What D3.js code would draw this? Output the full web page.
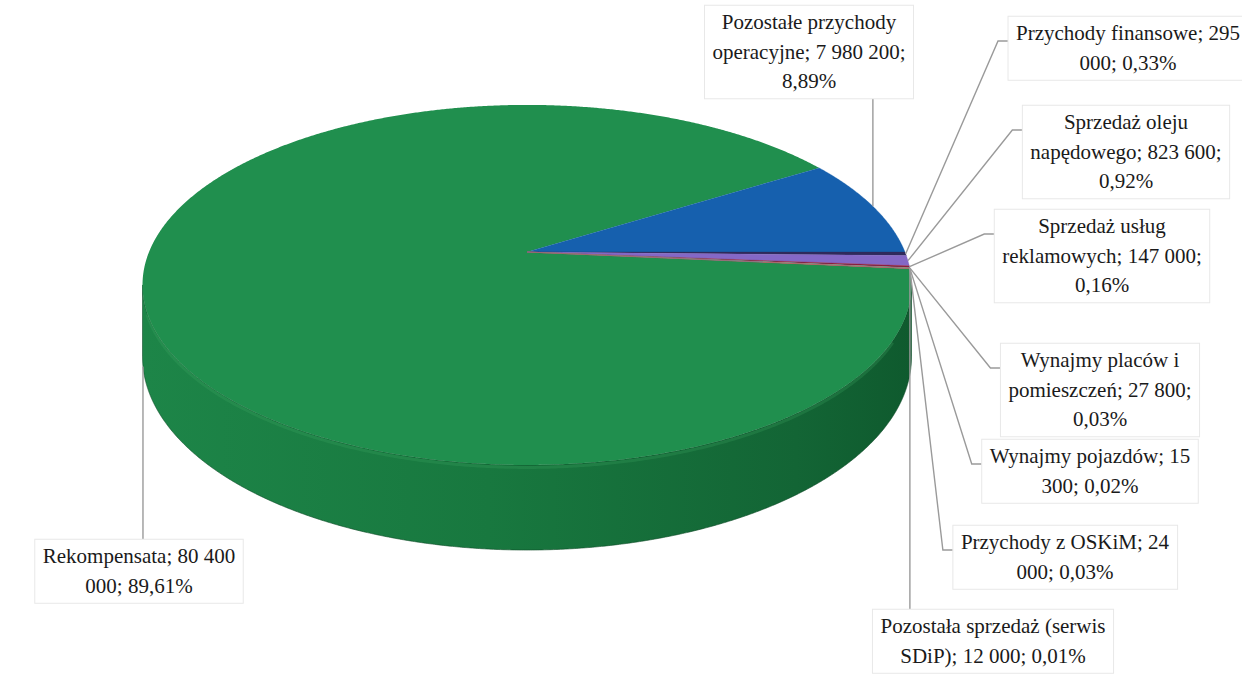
<!DOCTYPE html>
<html>
<head>
<meta charset="utf-8">
<script src="https://cdn.jsdelivr.net/npm/d3@7/dist/d3.min.js"></script>
<style>
  body { margin: 0; background: #fff; }
  svg { display: block; }
</style>
</head>
<body>
<script>
// Data
const categories = [
  "Rekompensata",
  "Pozostałe przychody operacyjne",
  "Przychody finansowe",
  "Sprzedaż oleju napędowego",
  "Sprzedaż usług reklamowych",
  "Wynajmy placów i pomieszczeń",
  "Wynajmy pojazdów",
  "Przychody z OSKiM",
  "Pozostała sprzedaż (serwis SDiP)"
];
const values = [80400000, 7980200, 295000, 823600, 147000, 27800, 15300, 24000, 12000];
const colors = ["#208f4e", "#1660ae", "#2f2a5c", "#8468c6", "#8c1f3e", "#3aa6c0", "#f39a3c", "#4f81bd", "#c0504d"];

// Label layout: text centre x, first line centre y, wrap width, leader type
const labelLayout = [
  { x: 139,  y: 556, wrap: 220, leader: "down" },
  { x: 809,  y: 22,  wrap: 220, leader: "up" },
  { x: 1128, y: 33,  wrap: 235, leader: "right" },
  { x: 1126, y: 122, wrap: 220, leader: "right" },
  { x: 1102, y: 226, wrap: 220, leader: "right" },
  { x: 1100, y: 360, wrap: 220, leader: "right" },
  { x: 1090, y: 456, wrap: 220, leader: "right" },
  { x: 1065, y: 542, wrap: 220, leader: "right" },
  { x: 993,  y: 626, wrap: 250, leader: "down" }
];

const WIDTH = 1242, HEIGHT = 682;
const LINE_H = 29.5;
const FONT = "21px 'Liberation Serif', 'Times New Roman', serif";

// 3D pie geometry (perspective view of a flat cylinder)
const PIE = { cx: 527, cy: 252, rx: 378, ry: 174, persp: -0.183, depth: 69.5 };
function proj(t, h) {
  const s = Math.sin(t), k = 1 + PIE.persp * s;
  return [PIE.cx + PIE.rx * Math.cos(t) / k, PIE.cy + (PIE.ry * s + h) / k];
}

const pl = d3.formatLocale({ decimal: ",", thousands: " ", grouping: [3], currency: ["", " zł"] });
const fmtNum = pl.format(",d");
const fmtPct = pl.format(".2%");
const total = d3.sum(values);

const svg = d3.select("body").append("svg")
  .attr("width", WIDTH)
  .attr("height", HEIGHT);

const defs = svg.append("defs");
const sideGrad = defs.append("linearGradient").attr("id", "sideGrad")
  .attr("x1", 0).attr("x2", 1).attr("y1", 0).attr("y2", 0);
sideGrad.append("stop").attr("offset", "0%").attr("stop-color", "#1d8548");
sideGrad.append("stop").attr("offset", "45%").attr("stop-color", "#18783f");
sideGrad.append("stop").attr("offset", "85%").attr("stop-color", "#136535");
sideGrad.append("stop").attr("offset", "100%").attr("stop-color", "#0f5a2e");

// Pie angles: d3.pie keeps data order clockwise; rotate so the
// second slice ends at the right-hand side of the disc
const arcs = d3.pie().sort(null).value(d => d)(values);
const offset = -arcs[1].endAngle;
const TAU = Math.PI * 2;
arcs.forEach(a => {
  let t0 = a.startAngle + offset;
  while (t0 < 0) t0 += TAU;
  a.t0 = t0;
  a.t1 = t0 + (a.endAngle - a.startAngle);
});

function arcPoints(t0, t1, h) {
  const n = Math.max(2, Math.ceil((t1 - t0) / 0.005));
  return d3.range(n + 1).map(i => proj(t0 + (t1 - t0) * i / n, h));
}
const line = d3.line();

// Visible part of the side wall lies between the two silhouette angles
const tVis0 = Math.asin(-PIE.persp), tVis1 = Math.PI - tVis0;
const G = svg.append("g");
arcs.forEach((a, i) => {
  [0, TAU].forEach(shift => {
    const s0 = Math.max(a.t0 - shift, tVis0), s1 = Math.min(a.t1 - shift, tVis1);
    if (s1 <= s0) return;
    const pts = arcPoints(s0, s1, 0).concat(arcPoints(s0, s1, PIE.depth).reverse());
    G.append("path")
      .attr("d", line(pts) + "Z")
      .attr("fill", i === 0 ? "url(#sideGrad)" : d3.color(colors[i]).darker(0.6))
      .attr("stroke", "#0d4a26")
      .attr("stroke-width", 0.6);
  });
});

// Top faces
arcs.forEach((a, i) => {
  const pts = [[PIE.cx, PIE.cy]].concat(arcPoints(a.t0, a.t1, 0));
  G.append("path")
    .attr("d", line(pts) + "Z")
    .attr("fill", colors[i])
    .attr("stroke", i === 0 ? "none" : colors[i])
    .attr("stroke-width", 0.3);
});

// Soft highlight along the front rim of the top face
G.append("path")
  .attr("d", line(arcPoints(tVis0 + 0.3, tVis1 - 0.15, 2)))
  .attr("fill", "none")
  .attr("stroke", "#3fa865")
  .attr("stroke-opacity", 0.25)
  .attr("stroke-width", 3);

// Leader lines sit under the label boxes
const leaders = svg.append("g");
const labels = svg.append("g").style("font", FONT).attr("fill", "#1a1a1a");

function wrapText(str, width) {
  const tmp = labels.append("text").style("visibility", "hidden");
  const words = str.split(" ");
  const out = [];
  let cur = words[0];
  for (let k = 1; k < words.length; k++) {
    tmp.text(cur + " " + words[k]);
    if (tmp.node().getComputedTextLength() > width) { out.push(cur); cur = words[k]; }
    else cur = cur + " " + words[k];
  }
  out.push(cur);
  tmp.remove();
  return out;
}

arcs.forEach((a, i) => {
  const L = labelLayout[i];
  const txt = categories[i] + "; " + fmtNum(values[i]) + "; " + fmtPct(values[i] / total);
  const lines = wrapText(txt, L.wrap);
  const g = labels.append("g");
  const rect = g.append("rect");
  const text = g.append("text").attr("text-anchor", "middle");
  lines.forEach((s, k) => {
    text.append("tspan")
      .attr("x", L.x)
      .attr("y", L.y + k * LINE_H)
      .attr("dy", "0.35em")
      .text(s);
  });
  const bb = text.node().getBBox();
  const box = { x0: bb.x - 8, x1: bb.x + bb.width + 8, y0: L.y - LINE_H / 2 - 2, y1: L.y + (lines.length - 0.5) * LINE_H + 3 };
  rect.attr("x", box.x0).attr("y", box.y0)
    .attr("width", box.x1 - box.x0).attr("height", box.y1 - box.y0)
    .attr("fill", "#fff").attr("stroke", "#e8e8e8").attr("stroke-width", 1);

  // Leader line from the slice to the label
  const mid = (a.t0 + a.t1) / 2;
  const p = proj(mid, i === 0 ? PIE.depth : 0);
  let pts;
  if (L.leader === "up") pts = [p, [p[0], box.y1]];
  else if (L.leader === "down") pts = [p, [p[0], box.y0]];
  else {
    const hy = L.y + 8;
    pts = [p, [box.x0 - 10, hy], [box.x0, hy]];
  }
  leaders.append("path")
    .attr("d", line(pts))
    .attr("fill", "none")
    .attr("stroke", "#9a9a9a")
    .attr("stroke-width", 1.4);
});
</script>
</body>
</html>
